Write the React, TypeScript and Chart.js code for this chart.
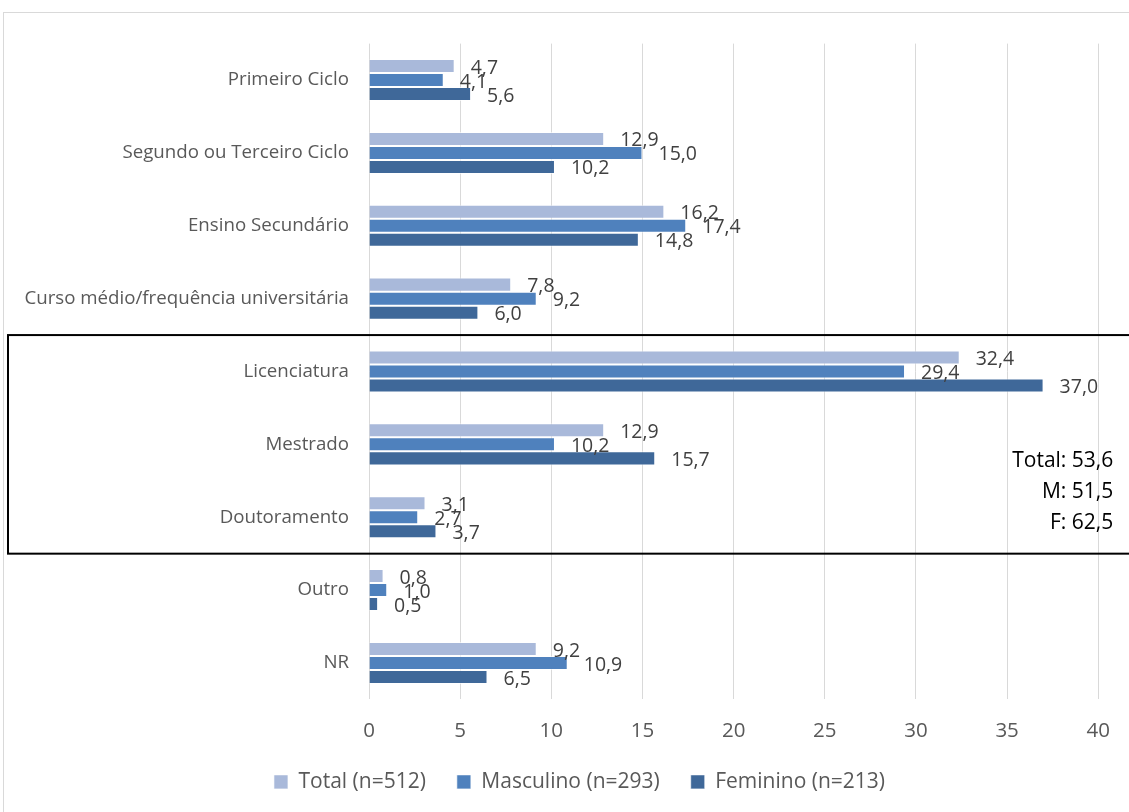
import React, { useEffect, useRef } from "react";
import { Chart, registerables } from "chart.js";

Chart.register(...registerables);

const categories = [
  "Primeiro Ciclo",
  "Segundo ou Terceiro Ciclo",
  "Ensino Secundário",
  "Curso médio/frequência universitária",
  "Licenciatura",
  "Mestrado",
  "Doutoramento",
  "Outro",
  "NR",
];
const totalValues = [4.7, 12.9, 16.2, 7.8, 32.4, 12.9, 3.1, 0.8, 9.2];
const masculinoValues = [4.1, 15.0, 17.4, 9.2, 29.4, 10.2, 2.7, 1.0, 10.9];
const femininoValues = [5.6, 10.2, 14.8, 6.0, 37.0, 15.7, 3.7, 0.5, 6.5];
const seriesLabels = ["Total (n=512)", "Masculino (n=293)", "Feminino (n=213)"];
const xTicks = [0, 5, 10, 15, 20, 25, 30, 35, 40];
const boxNotes = ["Total: 53,6", "M: 51,5", "F: 62,5"];
const highlightedRange = [3.5, 6.5];

const FONT = "'Open Sans', 'Liberation Sans', sans-serif";

const frame = {
  id: "frame",
  beforeDraw(chart: any) {
    const ctx = chart.ctx;
    ctx.save();
    ctx.fillStyle = "#ffffff";
    ctx.fillRect(0, 0, chart.width, chart.height);
    ctx.strokeStyle = "#d9d9d9";
    ctx.lineWidth = 1;
    ctx.strokeRect(3.5, 12.5, chart.width + 20, chart.height + 20);
    ctx.restore();
  },
};

const legendShift = {
  id: "legendShift",
  afterLayout(chart: any) {
    const lg = chart.legend;
    if (lg) {
      lg.left += 29;
      lg.right += 29;
    }
  },
};

const valueLabels = {
  id: "valueLabels",
  afterDatasetsDraw(chart: any) {
    const ctx = chart.ctx;
    ctx.save();
    ctx.font = `19.5px ${FONT}`;
    ctx.fillStyle = "#404040";
    ctx.textAlign = "left";
    ctx.textBaseline = "middle";
    chart.data.datasets.forEach((ds: any, di: number) => {
      const meta = chart.getDatasetMeta(di);
      meta.data.forEach((bar: any, i: number) => {
        const v = ds.data[i] as number;
        ctx.fillText(v.toFixed(1).replace(".", ","), bar.x + 16, bar.y + 2);
      });
    });
    ctx.restore();
  },
};

const highlightBox = {
  id: "highlightBox",
  afterDraw(chart: any) {
    const ctx = chart.ctx;
    const y = chart.scales.y;
    const top = y.getPixelForValue(highlightedRange[0]);
    const bottom = y.getPixelForValue(highlightedRange[1]);
    ctx.save();
    ctx.strokeStyle = "#000000";
    ctx.lineWidth = 2;
    ctx.strokeRect(8, top, chart.width + 20, bottom - top);
    ctx.font = `21px ${FONT}`;
    ctx.fillStyle = "#000000";
    ctx.textAlign = "right";
    ctx.textBaseline = "middle";
    const mid = y.getPixelForValue(5.5) + 11;
    boxNotes.forEach((t, i) => {
      ctx.fillText(t, chart.chartArea.right + 15, mid + (i - 1) * 31);
    });
    ctx.restore();
  },
};

export default function App() {
  const ref = useRef<HTMLCanvasElement>(null);
  useEffect(() => {
    if (!ref.current) return;
    const chart = new Chart(ref.current, {
      type: "bar",
      data: {
        labels: categories,
        datasets: [
          {
            label: seriesLabels[0],
            data: totalValues,
            backgroundColor: "#A9B9DA",
            borderColor: "rgba(255,255,255,0.6)",
            borderWidth: 1,
          },
          {
            label: seriesLabels[1],
            data: masculinoValues,
            backgroundColor: "#4F81BD",
            borderColor: "rgba(255,255,255,0.6)",
            borderWidth: 1,
          },
          {
            label: seriesLabels[2],
            data: femininoValues,
            backgroundColor: "#3F6899",
            borderColor: "rgba(255,255,255,0.6)",
            borderWidth: 1,
          },
        ],
      },
      options: {
        indexAxis: "y",
        responsive: false,
        animation: false,
        devicePixelRatio: 1,
        datasets: {
          bar: { categoryPercentage: 0.577, barPercentage: 1.0 },
        },
        layout: { padding: { top: 43.6, right: 28, left: 0, bottom: 9.6 } },
        plugins: {
          tooltip: { enabled: false },
          legend: {
            position: "bottom",
            labels: {
              boxWidth: 14,
              boxHeight: 14,
              padding: 31,
              color: "#595959",
              font: { family: FONT, size: 21 },
            },
          },
        },
        scales: {
          x: {
            min: 0,
            max: 40,
            afterBuildTicks(scale: any) {
              scale.ticks = xTicks.map((v) => ({ value: v }));
            },
            afterFit(scale: any) {
              scale.height = 41;
            },
            grid: { color: "#d9d9d9", lineWidth: 1, drawTicks: false },
            border: { display: false },
            ticks: {
              padding: 19,
              color: "#595959",
              font: { family: FONT, size: 20.5 },
            },
          },
          y: {
            afterFit(scale: any) {
              scale.width = 369;
            },
            grid: { display: false, drawTicks: false },
            border: { display: false },
            ticks: {
              padding: 20,
              color: "#595959",
              font: { family: FONT, size: 18.7 },
            },
          },
        },
      },
      plugins: [frame, legendShift, valueLabels, highlightBox],
    });
    return () => chart.destroy();
  }, []);
  return (
    <div style={{ position: "fixed", left: 0, top: 0, width: 1129, height: 812, background: "#fff" }}>
      <canvas ref={ref} width={1129} height={812} />
    </div>
  );
}
